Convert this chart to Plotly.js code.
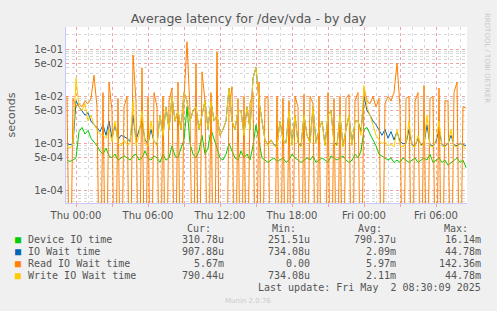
<!DOCTYPE html>
<html>
<head>
<meta charset="utf-8">
<script src="https://cdn.plot.ly/plotly-3.0.1.min.js"></script>
<style>
html,body{margin:0;padding:0;background:#F0F0F0;}
#chart{width:497px;height:311px;}
</style>
</head>
<body>
<div id="chart"></div>
<script>
// ---- data (milliseconds, one sample per 15 minutes from Wed 23:15) ----
const startTime = '2025-04-30T23:15:00Z';
const stepMinutes = 15;

const seriesNames = ['Device IO time', 'IO Wait time', 'Read IO Wait time', 'Write IO Wait time'];
const seriesColors = ['#00CC00', '#0066B3', '#FF8000', '#FFCC00'];

const deviceIO = [
  0.45,0.42,0.45,0.5,1.8,2.2,1.6,1.9,1.3,1.1,
  0.9,0.7,0.6,0.8,0.55,0.5,0.6,0.45,0.5,0.55,
  0.5,0.45,0.55,0.6,0.45,0.5,0.7,0.5,0.45,0.55,
  0.5,0.4,0.6,0.45,0.5,0.9,0.55,0.5,0.8,1.2,
  6,1.0,0.6,0.5,0.7,1.5,0.6,0.8,2.0,1.2,
  0.8,0.5,0.45,0.6,1.0,0.7,0.5,0.45,0.7,0.5,
  0.6,0.45,0.9,2.5,1.2,0.5,0.45,0.4,0.45,0.5,
  0.42,0.45,0.5,0.4,0.45,0.6,0.5,0.45,0.4,0.45,
  0.5,0.45,0.55,0.4,0.45,0.5,0.45,0.4,0.55,0.5,
  0.45,0.5,0.55,0.45,0.4,0.45,0.6,0.5,0.7,2.0,
  2.2,1.6,1.2,0.9,0.6,0.55,0.5,0.45,0.5,0.4,
  0.45,0.4,0.5,0.45,0.4,0.45,0.5,0.4,0.45,0.5,
  0.45,0.6,0.4,0.45,0.5,0.4,0.45,0.35,0.4,0.45,
  0.5,0.4,0.45,0.31
];
const ioWait = [
  1.0,0.95,1.0,8,6,5,4,4.5,3,2.5,
  2.2,1.8,2.5,1.5,3,1.3,2.5,1.2,1.5,1.4,
  1.3,1.1,4,1.2,2,3,1.2,1.0,2,1.1,
  0.95,4,1.5,6,2,10,3,5,2,12,
  8,3,5,6,2,4,8,2,8,3,
  4,1.5,2,3,15,3,2,5,5,1.5,
  6,2,24,41,8,3,1.2,0.95,1.2,0.95,
  0.9,3,1.2,1.05,5,0.95,4,1.05,0.9,4,
  1.5,1.05,6,1.05,2,3,0.95,4,5,1.05,
  0.95,4,0.9,2,4,0.95,3,3,1.8,10,
  5,4,3,2.5,2,1.5,2,1.3,1.8,1.2,
  1.8,1.1,1.0,1.0,2,0.95,0.9,1.3,0.95,1.0,
  2.5,0.95,0.9,1.1,2,0.95,0.9,1.0,1.5,0.95,
  0.9,1.0,0.95,0.91
];
const readWait = [
  10,0,9,6,7,6,8,7,9,28,
  6,0,12,0,20,5,0,9,0,6,
  10,0,75,8,0,40,0,10,0,12,
  6,0,10,0,8,15,0,20,0,9,
  142,5,0,50,0,33,8,0,12,0,
  87,0,0,0,6,16,0,9,0,10,
  0,7,12,0,20,0,9,10,0,0,
  10,0,9,0,8,0,10,6,0,11,
  0,10,7,0,10,0,0,12,0,9,
  0,10,0,9,11,0,8,12,0,15,
  8,7,10,6,9,0,7,10,8,12,
  50,6,0,9,10,0,8,12,0,17,
  0,9,10,0,15,0,8,8,0,12,
  20,0,6,5.67
];
const writeWait = [
  0.9,0.8,1.0,24,6,5,7,3,4,2.5,
  2,1.6,1.5,1.3,2,1.1,3,1.0,0.9,1.2,
  0.95,1.0,8,0.9,1.5,5,1.0,0.9,3,1.1,
  0.9,4,1.5,6,2,10,3,5,2,12,
  8,3,5,6,2,4,8,2,8,3,
  4,1.5,2,3,15,3,2,5,5,1.5,
  6,2,24,41,8,3,1.2,0.9,1.2,0.9,
  0.85,3,1.2,1.0,5,0.9,4,1.0,0.85,4,
  1.5,1.0,6,1.0,2,3,0.9,4,5,1.0,
  0.9,4,0.85,2,4,0.9,3,3,1.5,17,
  6,4,2.5,1.5,1.2,1.0,1.1,0.9,1.0,0.85,
  2,0.9,0.85,1.0,3,0.9,0.85,1.5,0.9,1.0,
  4,0.9,0.85,1.2,3,0.9,0.85,1.0,2,0.9,
  0.85,1.0,0.9,0.79
];

const legendCur = ['310.78u', '907.88u', '5.67m', '790.44u'];
const legendMin = ['251.51u', '734.08u', '0.00', '734.08u'];
const legendAvg = ['790.37u', '2.09m', '5.97m', '2.11m'];
const legendMax = ['16.14m', '44.78m', '142.36m', '44.78m'];

const xTickVals = ['2025-05-01 00:00','2025-05-01 03:00','2025-05-01 06:00','2025-05-01 09:00',
  '2025-05-01 12:00','2025-05-01 15:00','2025-05-01 18:00','2025-05-01 21:00',
  '2025-05-02 00:00','2025-05-02 03:00','2025-05-02 06:00'];
const xTickText = ['Thu 00:00','','Thu 06:00','','Thu 12:00','','Thu 18:00','','Fri 00:00','','Fri 06:00'];
const yTickVals = [0.1, 0.05, 0.01, 0.005, 0.001, 0.0005, 0.0001];
const yTickText = ['1e-01','5e-02','1e-02','5e-03','1e-03','5e-04','1e-04'];

// ---- build ----
const t0 = Date.parse(startTime);
function times(n){
  const out=[];
  for(let i=0;i<n;i++){
    out.push(new Date(t0 + i*stepMinutes*60000).toISOString().slice(0,19).replace('T',' '));
  }
  return out;
}
function toSec(arr){ return arr.map(v => v > 0 ? v/1000 : 1e-7); }

const allSeries = [deviceIO, ioWait, readWait, writeWait];
const traces = allSeries.map((s,k)=>({
  type:'scatter', mode:'lines', x: times(s.length), y: toSec(s),
  name: seriesNames[k], line:{color: seriesColors[k], width:1},
  hoverinfo:'skip', showlegend:false
}));

const mono = 'DejaVu Sans Mono, monospace';
const txtCol = '#555555';
const ann = [];
function addText(text, x, y, anchor, opts){
  ann.push(Object.assign({text:text, xref:'paper', yref:'paper', x:x, y:y, xanchor:anchor, yanchor:'middle',
    showarrow:false, font:{family:mono, size:10, color:txtCol}}, opts||{}));
}
// paper coords: plot area left 66, right 467, top 27, bottom 203
const L=66, R=467, T=27, B=203;
const px = x => (x-L)/(R-L);
const py = y => (B-y)/(B-T);

addText('Cur:', px(213), py(228), 'right');
addText('Min:', px(298), py(228), 'right');
addText('Avg:', px(384), py(228), 'right');
addText('Max:', px(470), py(228), 'right');
const rowY = [239, 251, 263, 275];
for(let k=0;k<4;k++){
  addText('■', px(13), py(rowY[k]), 'left', {font:{family:mono,size:10,color:seriesColors[k]}});
  addText(seriesNames[k], px(26), py(rowY[k]), 'left');
  addText(legendCur[k], px(226), py(rowY[k]), 'right');
  addText(legendMin[k], px(312), py(rowY[k]), 'right');
  addText(legendAvg[k], px(398), py(rowY[k]), 'right');
  addText(legendMax[k], px(483), py(rowY[k]), 'right');
}
addText('Last update: Fri May  2 08:30:09 2025', px(483), py(287), 'right');
addText('Munin 2.0.76', px(248), py(301), 'center', {font:{family:'DejaVu Sans, sans-serif', size:7, color:'#CCCCCC'}});
addText('RRDTOOL / TOBI OETIKER', px(487), py(58), 'center', {textangle:90, font:{family:'DejaVu Sans, sans-serif', size:7, color:'#C8C8C8'}});

const layout = {
  width:497, height:311,
  paper_bgcolor:'#F0F0F0', plot_bgcolor:'#FFFFFF',
  margin:{l:L, r:497-R, t:T, b:311-B, pad:0},
  title:{text:'Average latency for /dev/vda - by day', x:0.5, xanchor:'center', y:1-19/311, yanchor:'middle',
    font:{family:'DejaVu Sans, sans-serif', size:12.5, color:txtCol}},
  xaxis:{type:'date', range:['2025-04-30 23:10','2025-05-02 08:35'],
    tickmode:'array', tickvals:xTickVals, ticktext:xTickText,
    showgrid:true, gridcolor:'#F2A0A0', griddash:'dot', gridwidth:1,
    ticks:'outside', ticklen:3, tickcolor:'#F2A0A0',
    showline:true, linecolor:'#C8C8FF', linewidth:1, zeroline:false,
    tickfont:{family:'DejaVu Sans, sans-serif', size:10, color:txtCol},
    minor:{dtick:3600000, showgrid:true, gridcolor:'#D8D8D8', griddash:'dot', gridwidth:1}},
  yaxis:{type:'log', range:[-4.254, -0.535],
    tickmode:'array', tickvals:yTickVals, ticktext:yTickText,
    showgrid:true, gridcolor:'#F2A0A0', griddash:'dot', gridwidth:1,
    showline:true, linecolor:'#C8C8FF', linewidth:1, zeroline:false, ticks:'',
    tickfont:{family:'DejaVu Sans, sans-serif', size:10, color:txtCol},
    title:{text:'seconds', standoff:16, font:{family:'DejaVu Sans, sans-serif', size:11, color:txtCol}},
    minor:{dtick:'D1', showgrid:true, gridcolor:'#D8D8D8', griddash:'dot', gridwidth:1}},
  annotations:ann,
  showlegend:false
};

Plotly.newPlot('chart', traces, layout, {displayModeBar:false, staticPlot:true});
</script>
</body>
</html>
